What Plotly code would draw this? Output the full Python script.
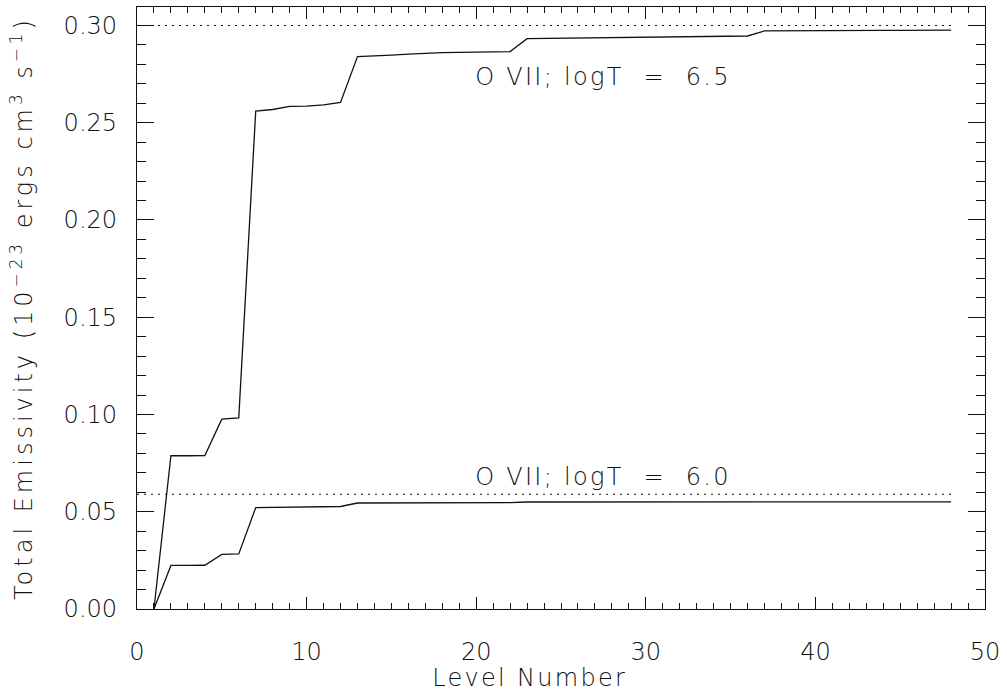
import plotly.graph_objects as go

# Level index (1..48) and cumulative emissivity for two temperatures
levels = list(range(1, 49))

emis_65 = [0.0000, 0.0788, 0.0788, 0.0789, 0.0976, 0.0983, 0.2560, 0.2568,
           0.2584, 0.2585, 0.2592, 0.2604, 0.2840, 0.2843, 0.2848, 0.2853,
           0.2858, 0.2860, 0.2862, 0.2863, 0.2864, 0.2866, 0.2932, 0.2933,
           0.2934, 0.2935, 0.2936, 0.2937, 0.2937, 0.2938, 0.2939, 0.2940,
           0.2941, 0.2942, 0.2943, 0.2946, 0.2972, 0.2973, 0.2973, 0.2974,
           0.2974, 0.2974, 0.2975, 0.2975, 0.2975, 0.2976, 0.2976, 0.2976]

emis_60 = [0.0000, 0.0224, 0.0224, 0.0225, 0.0281, 0.0283, 0.0521, 0.0522,
           0.0523, 0.0523, 0.0524, 0.0527, 0.0545, 0.0545, 0.0545, 0.0546,
           0.0546, 0.0546, 0.0546, 0.0547, 0.0547, 0.0547, 0.0550, 0.0550,
           0.0550, 0.0550, 0.0550, 0.0550, 0.0550, 0.0550, 0.0550, 0.0550,
           0.0550, 0.0550, 0.0550, 0.0550, 0.0551, 0.0551, 0.0551, 0.0551,
           0.0551, 0.0551, 0.0551, 0.0551, 0.0551, 0.0551, 0.0551, 0.0551]

# Total emissivity summed over all levels
total_65 = 0.300
total_60 = 0.0590

NBSP = "\u00a0"
labels = [f"O VII; logT{NBSP}{NBSP}={NBSP}{NBSP}6.5",
          f"O VII; logT{NBSP}{NBSP}={NBSP}{NBSP}6.0"]
label_pos = [(27.5, 0.2735), (27.5, 0.0680)]

x_ticks = [0, 10, 20, 30, 40, 50]
y_ticks = [0.00, 0.05, 0.10, 0.15, 0.20, 0.25, 0.30]

x_title = "Level Number"
y_title = ("Total Emissivity (10<sup>\u221223</sup> ergs cm<sup>3</sup> "
           "s<sup>\u22121</sup>)")

FONT = "DejaVu Sans"
INK = "#111111"
TXT = dict(family=FONT, size=24, color=INK, weight=200)

fig = go.Figure()

for tot in (total_65, total_60):
    fig.add_trace(go.Scatter(
        x=[0, levels[-1]], y=[tot, tot], mode="lines",
        line=dict(color=INK, width=1.2, dash="2px,5px"),
        hoverinfo="skip", showlegend=False))

for series in (emis_65, emis_60):
    fig.add_trace(go.Scatter(
        x=levels, y=series, mode="lines",
        line=dict(color=INK, width=1.3),
        showlegend=False))

for text, (lx, ly) in zip(labels, label_pos):
    fig.add_annotation(x=lx, y=ly, text=text, showarrow=False,
                       xanchor="center", yanchor="middle", font=TXT)

# axis titles as paper-anchored annotations
fig.add_annotation(xref="paper", yref="paper", x=0.4634, y=0,
                   yshift=-69, text=x_title, showarrow=False,
                   xanchor="center", yanchor="middle", font=TXT, borderpad=0)
fig.add_annotation(xref="paper", yref="paper", x=0, y=0.5,
                   xshift=-115, text=y_title, textangle=-90, showarrow=False,
                   xanchor="center", yanchor="middle", font=TXT)

axis_common = dict(
    showgrid=False, zeroline=False, showline=True, linecolor=INK,
    linewidth=1.3, mirror="allticks", ticks="inside", tickcolor=INK,
    tickwidth=1.2, tickfont=TXT, automargin=False,
)

fig.update_xaxes(
    range=[0, 50], tickvals=x_ticks, ticktext=[str(v) for v in x_ticks],
    ticklen=12, ticklabelstandoff=21,
    minor=dict(dtick=1, ticks="inside", ticklen=6, tickcolor=INK, tickwidth=1.0),
    **axis_common)

fig.update_yaxes(
    range=[0, 0.3095], tickvals=y_ticks, ticktext=[f"{v:.2f}" for v in y_ticks],
    ticklen=17, ticklabelstandoff=14,
    minor=dict(dtick=0.01, tick0=0, ticks="inside", ticklen=9, tickcolor=INK,
               tickwidth=1.0),
    **axis_common)

fig.update_layout(
    width=1007, height=694,
    margin=dict(l=137, r=22, t=7, b=85),
    paper_bgcolor="white", plot_bgcolor="white",
)

# wider letter spacing for the label and title texts
spacing_js = """
var gd = document.getElementById('{plot_id}');
gd.querySelectorAll('text.annotation-text').forEach(function (t) {
    var s = t.textContent.indexOf('Total') === 0 ? '4px' : '2.3px';
    t.style.letterSpacing = s;
});
"""

fig.write_html("out.html", post_script=spacing_js)
